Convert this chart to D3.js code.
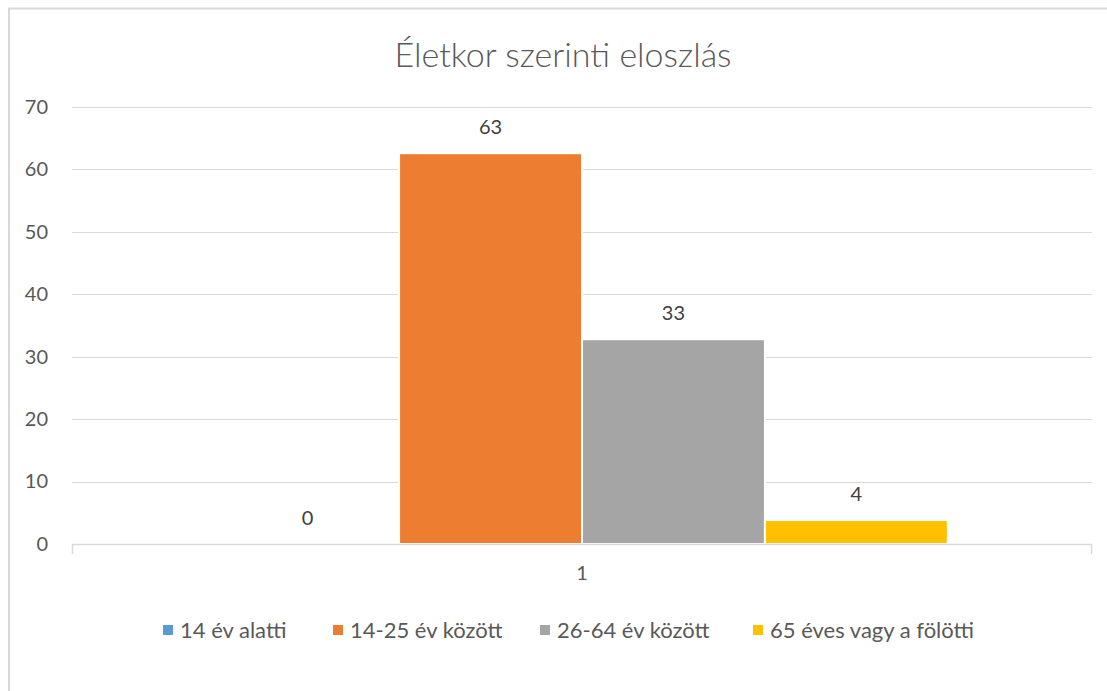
<!DOCTYPE html>
<html>
<head>
<meta charset="utf-8">
<script src="https://cdn.jsdelivr.net/npm/d3@7"></script>
<style>
  body { margin: 0; background: #fff; }
  text { font-family: Lato, "Open Sans", sans-serif; }
</style>
</head>
<body>
<div id="chart"></div>
<script>
(function bars() {

  // data
  const categories = ["1"];
  const series = ["14 év alatti", "14-25 év között", "26-64 év között", "65 éves vagy a fölötti"];
  const values = [0, 62.6, 32.8, 3.84];
  const colors = ["#5b9bd5", "#ed7d31", "#a5a5a5", "#ffc000"];
  const yTicks = [0, 10, 20, 30, 40, 50, 60, 70];

  let width = 1107,
    height = 691,
    margin = ({ top: 107, right: 15, bottom: 147, left: 72 });

  const svg = d3.select("#chart")
    .append("svg")
    .attr("width", width)
    .attr("height", height);

  // outer frame
  svg.append("rect")
    .attr("x", 9)
    .attr("y", 8.5)
    .attr("width", width)
    .attr("height", height)
    .attr("fill", "none")
    .attr("stroke", "#d9d9d9")
    .attr("stroke-width", 2);

  let x0 = d3.scaleBand()
    .domain(categories)
    .range([margin.left, width - margin.right])
    .paddingInner(0)
    .paddingOuter(0.197);

  let x1 = d3.scaleBand()
    .domain(series)
    .range([0, x0.bandwidth()]);

  let y = d3.scaleLinear()
    .domain([0, 70])
    .range([height - margin.bottom, margin.top]);

  // gridlines
  svg.append("g")
    .selectAll("line")
    .data(yTicks.slice(1))
    .join("line")
    .attr("x1", margin.left)
    .attr("x2", width - margin.right)
    .attr("y1", d => Math.round(y(d)) + 0.5)
    .attr("y2", d => Math.round(y(d)) + 0.5)
    .attr("stroke", "#d9d9d9")
    .attr("stroke-width", 1);

  // y axis labels
  const yAxis = svg.append("g")
    .attr("transform", `translate(${margin.left - 24},0)`)
    .call(d3.axisLeft(y).tickValues(yTicks).tickSize(0).tickPadding(0));
  yAxis.select(".domain").remove();
  yAxis.selectAll("text")
    .attr("font-size", 20)
    .attr("fill", "#595959")
    .attr("font-family", "Lato, sans-serif");

  // bars
  const g = svg.append("g")
    .attr("transform", `translate(${x0(categories[0])},0)`);

  g.selectAll("rect")
    .data(values)
    .join("rect")
    .attr("x", (d, i) => x1(series[i]))
    .attr("y", d => y(d))
    .attr("width", x1.bandwidth())
    .attr("height", d => y(0) - y(d))
    .attr("fill", (d, i) => colors[i])
    .attr("stroke", "#fff")
    .attr("stroke-width", 2);

  g.selectAll("text.lbl")
    .data(values)
    .join("text")
    .attr("class", "lbl")
    .attr("x", (d, i) => x1(series[i]) + x1.bandwidth() / 2)
    .attr("y", d => y(d) - 26)
    .attr("dy", "0.35em")
    .attr("text-anchor", "middle")
    .attr("font-size", 20)
    .attr("fill", "#404040")
    .text(d => d3.format(".0f")(d));

  // x axis
  const xAxis = svg.append("g")
    .attr("transform", `translate(0,${y(0)})`)
    .call(d3.axisBottom(x0).tickSize(0).tickPadding(22));
  xAxis.select(".domain").remove();
  xAxis.selectAll("text")
    .attr("font-size", 20)
    .attr("fill", "#595959")
    .attr("font-family", "Lato, sans-serif");

  svg.append("path")
    .attr("d", `M${margin.left + 0.5},${y(0) + 10}V${Math.round(y(0)) + 0.5}H${width - margin.right - 0.5}V${y(0) + 10}`)
    .attr("fill", "none")
    .attr("stroke", "#d9d9d9")
    .attr("stroke-width", 1.5);

  // title
  svg.append("text")
    .attr("x", 563)
    .attr("y", 55)
    .attr("dy", "0.35em")
    .attr("text-anchor", "middle")
    .attr("font-size", 34)
    .attr("font-weight", 300)
    .attr("fill", "#595959")
    .text("Életkor szerinti eloszlás");

  // legend
  const legendX = [163, 333, 540, 753];
  const legend = svg.append("g")
    .selectAll("g")
    .data(series)
    .join("g")
    .attr("transform", (d, i) => `translate(${legendX[i]},630)`);

  legend.append("rect")
    .attr("x", 0)
    .attr("y", -5)
    .attr("width", 10)
    .attr("height", 10)
    .attr("fill", (d, i) => colors[i]);

  legend.append("text")
    .attr("x", 17)
    .attr("dy", "0.35em")
    .attr("font-size", 22)
    .attr("fill", "#595959")
    .text(d => d);
})();
</script>
</body>
</html>
